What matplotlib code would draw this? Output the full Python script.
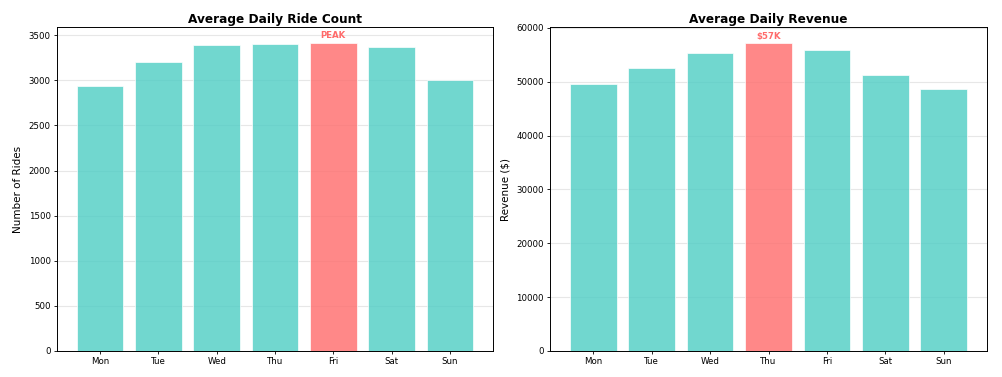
import matplotlib
matplotlib.use("Agg")
import matplotlib.pyplot as plt

DAYS = ["Mon", "Tue", "Wed", "Thu", "Fri", "Sat", "Sun"]
RIDE_COUNTS = [2937, 3202, 3390, 3408, 3419, 3372, 3000]
REVENUE = [49560, 52490, 55420, 57280, 55850, 51180, 48570]

TEAL = "#4ECDC4"
RED = "#FF6B6B"
S = 0.626  # font scale

fig = plt.figure(figsize=(10.02, 3.77), dpi=100)
ax1 = fig.add_axes([0.0569, 0.069, 0.4351, 0.859])
ax2 = fig.add_axes([0.549, 0.069, 0.436, 0.859])


def draw(ax, values, title, ylabel, label, offset):
    peak = values.index(max(values))
    colors = [RED if i == peak else TEAL for i in range(len(values))]
    ax.bar(DAYS, values, color=colors, alpha=0.8, edgecolor="white", linewidth=0.6)
    ax.set_title(title, fontsize=14 * S, fontweight="bold", pad=3)
    ax.set_ylabel(ylabel, fontsize=12 * S)
    ax.grid(axis="y", alpha=0.3)
    ax.set_axisbelow(True)
    ax.tick_params(labelsize=10 * S, length=2.5, width=0.6, pad=2)
    for sp in ax.spines.values():
        sp.set_linewidth(0.7)
    ax.text(peak, values[peak] + offset, label, ha="center", va="bottom",
            color=RED, fontweight="bold", fontsize=10 * S)


draw(ax1, RIDE_COUNTS, "Average Daily Ride Count", "Number of Rides", "PEAK", 30)
draw(ax2, REVENUE, "Average Daily Revenue", "Revenue ($)",
     f"${max(REVENUE) / 1000:.0f}K", 200)

fig.savefig("out.png", dpi=100)
